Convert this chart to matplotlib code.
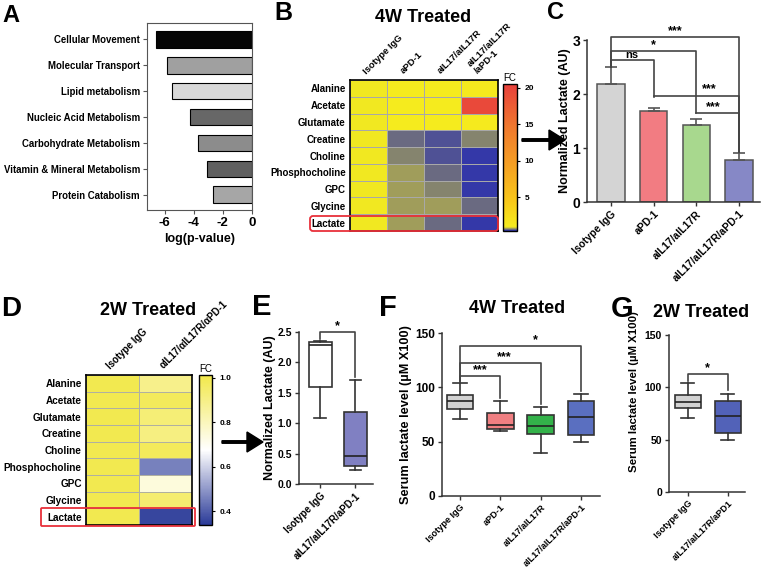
import numpy as np
import matplotlib
matplotlib.use("Agg")
import matplotlib.pyplot as plt
from matplotlib import font_manager
from matplotlib.colors import LinearSegmentedColormap
from matplotlib.patches import FancyBboxPatch

names = {f.name for f in font_manager.fontManager.ttflist}
narrow = 'Liberation Sans Narrow' if 'Liberation Sans Narrow' in names else 'Liberation Sans'
plt.rcParams['font.family'] = [narrow, 'DejaVu Sans']
plt.rcParams['font.weight'] = 'bold'
plt.rcParams['axes.labelweight'] = 'bold'

# ---- data ----
a_terms = ['Cellular Movement', 'Molecular Transport', 'Lipid metabolism',
           'Nucleic Acid Metabolism', 'Carbohydrate Metabolism',
           'Vitamin & Mineral Metabolism', 'Protein Catabolism']
a_logp = [-6.6, -5.8, -5.5, -4.25, -3.7, -3.1, -2.7]
a_colors = ['#050505', '#a0a0a0', '#d8d8d8', '#676767', '#8c8c8c', '#606060', '#a6a6a6']

metabolites = ['Alanine', 'Acetate', 'Glutamate', 'Creatine', 'Choline',
               'Phosphocholine', 'GPC', 'Glycine', 'Lactate']
b_groups = ['Isotype IgG', 'aPD-1', 'aIL17/aIL17R', 'aIL17/aIL17R\n/aPD-1']
b_fc = [[1.0, 1.05, 1.05, 1.3],
        [1.0, 1.1, 1.1, 19.5],
        [1.0, 1.05, 1.05, 1.15],
        [1.0, 0.58, 0.49, 0.67],
        [1.0, 0.67, 0.50, 0.45],
        [1.0, 0.75, 0.61, 0.45],
        [1.0, 0.78, 0.66, 0.45],
        [1.0, 0.75, 0.74, 0.56],
        [1.0, 0.75, 0.61, 0.42]]

c_groups = ['Isotype IgG', 'aPD-1', 'aIL17/aIL17R', 'aIL17/aIL17R/aPD-1']
c_mean = [2.18, 1.68, 1.43, 0.78]
c_err = [0.32, 0.07, 0.10, 0.13]
c_colors = ['#d4d4d4', '#f27c82', '#a8d88e', '#8688c6']

d_groups = ['Isotype IgG', 'αIL17/αIL17R/αPD-1']
d_fc = [[1.0, 0.89],
        [1.0, 0.98],
        [1.0, 0.93],
        [1.0, 0.91],
        [1.0, 0.98],
        [1.0, 0.46],
        [1.0, 0.74],
        [1.0, 0.94],
        [1.0, 0.36]]

e_groups = ['Isotype IgG', 'aIL17/aIL17R/aPD-1']
e_stats = [(1.09, 1.60, 2.29, 2.33, 2.36), (0.23, 0.30, 0.46, 1.18, 1.71)]  # lo, q1, med, q3, hi
e_colors = ['#ffffff', '#8080c2']

f_groups = ['Isotype IgG', 'aPD-1', 'aIL17/aIL17R', 'aIL17/aIL17R/aPD-1']
f_stats = [(71, 80, 87, 93, 104), (60, 61.5, 65, 76, 87), (40, 57, 64, 75, 82), (50, 56, 73, 87, 94)]
f_colors = ['#d2d2d2', '#f07f82', '#33b24a', '#5a6fc0']

g_groups = ['Isotype IgG', 'aIL17/aIL17R/aPD1']
g_stats = [(71, 80, 86, 93, 104), (50, 56, 73, 87, 94)]
g_colors = ['#d2d2d2', '#5262b8']

W, H = 763, 569
fig = plt.figure(figsize=(W / 100, H / 100), dpi=100)


def rect(l, t, r, b):
    return [l / W, 1 - b / H, (r - l) / W, (b - t) / H]


def style_axes(ax):
    for s in ['top', 'right']:
        ax.spines[s].set_visible(False)
    for s in ['left', 'bottom']:
        ax.spines[s].set_color('#333333')
        ax.spines[s].set_linewidth(1.1)
    ax.tick_params(colors='#333333', width=1, length=3, labelcolor='black', pad=2)


def bracket(ax, x1, x2, y, y1, y2, text, tx=None, fs=9):
    ax.plot([x1, x1, x2, x2], [y1, y, y, y2], color='#444444', lw=1.2, clip_on=False)
    if tx is None:
        tx = (x1 + x2) / 2
    ax.text(tx, y, text, ha='center', va='bottom', fontsize=fs, clip_on=False)


def boxes(ax, stats, labels, colors, fs):
    st = [dict(whislo=s[0], q1=s[1], med=s[2], q3=s[3], whishi=s[4], label=l)
          for s, l in zip(stats, labels)]
    bp = ax.bxp(st, positions=np.arange(len(st)), widths=0.66, showfliers=False,
                patch_artist=True,
                boxprops=dict(edgecolor='#333333', linewidth=1.2),
                medianprops=dict(color='#222222', linewidth=1.2),
                whiskerprops=dict(color='#333333', linewidth=1.2),
                capprops=dict(color='#333333', linewidth=1.2))
    for p, c in zip(bp['boxes'], colors):
        p.set_facecolor(c)
    plt.setp(ax.get_xticklabels(), rotation=45, ha='right', rotation_mode='anchor', fontsize=fs)


# ---- A ----
axA = fig.add_axes(rect(147, 23, 252, 210))
ya = np.arange(len(a_terms))
axA.barh(ya, a_logp, height=0.65, color=a_colors, edgecolor='black', linewidth=0.8)
axA.set_ylim(6.58, -0.62)
axA.set_xlim(-7.2, 0)
axA.set_yticks(ya)
axA.set_yticklabels(a_terms, fontsize=6.9)
axA.set_xticks([-6, -4, -2, 0])
axA.set_xticklabels(['-6', '-4', '-2', '0'], fontsize=9.5)
axA.set_xlabel('log(p-value)', fontsize=9, labelpad=3)
for s in axA.spines.values():
    s.set_color('#555555')
axA.tick_params(length=3, color='#555555', pad=2)

# ---- B ----
cmapB = LinearSegmentedColormap.from_list('fcB', [(0.0, '#3438a8'), (0.028, '#f5ec1e'), (0.2, '#f8c81a'),
                                                  (0.45, '#f5a023'), (0.7, '#f07a2e'), (1.0, '#e8403c')])
axB = fig.add_axes(rect(350, 80, 498, 231))
meshB = axB.pcolormesh(np.array(b_fc), cmap=cmapB, vmin=0.4, vmax=20.5,
                       edgecolors='#a8a8a8', linewidth=0.4)
axB.set_xlim(0, 4)
axB.set_ylim(9, 0)
axB.set_yticks(np.arange(9) + 0.5)
axB.set_yticklabels(metabolites, fontsize=7)
axB.xaxis.tick_top()
axB.set_xticks(np.arange(4) + 0.5)
axB.set_xticklabels(b_groups, fontsize=6.8, rotation=45, ha='left', rotation_mode='anchor')
axB.tick_params(length=0, pad=3)
for s in axB.spines.values():
    s.set_linewidth(1.2)
caxB = fig.add_axes(rect(503, 84, 517, 231))
cbB = fig.colorbar(meshB, cax=caxB, ticks=[5, 10, 15, 20])
cbB.ax.tick_params(labelsize=6, length=2)
cbB.outline.set_linewidth(1)
caxB.set_title('FC', fontsize=7, pad=2)

# ---- C ----
axC = fig.add_axes(rect(587, 40, 760, 202))
xc = np.arange(4)
axC.bar(xc, c_mean, width=0.64, color=c_colors, edgecolor='#555555', linewidth=1.1)
axC.errorbar(xc, c_mean, yerr=[np.zeros(4), c_err], fmt='none', ecolor='#555555',
             capsize=4, elinewidth=1.2, capthick=1.2)
axC.set_xlim(-0.56, 3.49)
axC.set_ylim(0, 3)
axC.set_yticks([0, 1, 2, 3])
axC.set_xticks(xc)
axC.set_xticklabels(c_groups, fontsize=7.5, rotation=45, ha='right', rotation_mode='anchor')
axC.set_ylabel('Normalized Lactate (AU)', fontsize=9, labelpad=1)
style_axes(axC)
bracket(axC, 0, 1, 2.63, 2.5, 1.95, 'ns', fs=8)
bracket(axC, 0, 2, 2.8, 2.5, 1.64, '*')
bracket(axC, 0, 3, 3.05, 2.5, 0.93, '***')
bracket(axC, 1, 3, 1.97, 1.97, 0.93, '***', tx=2.3)
bracket(axC, 2, 3, 1.64, 1.64, 0.93, '***', tx=2.4)

# ---- D ----
cmapD = LinearSegmentedColormap.from_list('fcD', [(0.0, '#2a3a98'), (0.5, '#ffffff'), (1.0, '#f2e84a')])
axD = fig.add_axes(rect(86, 375, 192, 525))
meshD = axD.pcolormesh(np.array(d_fc), cmap=cmapD, vmin=0.337, vmax=1.013,
                       edgecolors='#b0b0a0', linewidth=0.4)
axD.set_xlim(0, 2)
axD.set_ylim(9, 0)
axD.set_yticks(np.arange(9) + 0.5)
axD.set_yticklabels(metabolites, fontsize=7.2)
axD.xaxis.tick_top()
axD.set_xticks(np.arange(2) + 0.5)
axD.set_xticklabels(d_groups, fontsize=7, rotation=45, ha='left', rotation_mode='anchor')
axD.tick_params(length=0, pad=3)
for s in axD.spines.values():
    s.set_linewidth(1.2)
caxD = fig.add_axes(rect(199, 375, 212, 525))
cbD = fig.colorbar(meshD, cax=caxD, ticks=[0.4, 0.6, 0.8, 1.0], format='%.1f')
cbD.ax.tick_params(labelsize=6, length=2)
cbD.outline.set_linewidth(1)
caxD.set_title('FC', fontsize=7, pad=2)

# ---- E ----
axE = fig.add_axes(rect(299, 332, 373, 484))
boxes(axE, e_stats, e_groups, e_colors, 7)
axE.set_xlim(-0.6, 1.5)
axE.set_ylim(0, 2.5)
axE.set_yticks([0, 0.5, 1.0, 1.5, 2.0, 2.5])
axE.set_yticklabels(['0.0', '0.5', '1.0', '1.5', '2.0', '2.5'], fontsize=7.5)
axE.set_ylabel('Normalized Lactate (AU)', fontsize=9, labelpad=1)
style_axes(axE)
bracket(axE, 0, 1, 2.5, 2.38, 1.76, '*')

# ---- F ----
axF = fig.add_axes(rect(442, 333, 600, 496))
boxes(axF, f_stats, f_groups, f_colors, 6.6)
axF.set_xlim(-0.45, 3.47)
axF.set_ylim(0, 150)
axF.set_yticks([0, 50, 100, 150])
axF.tick_params(axis='y', labelsize=8.5)
axF.set_ylabel('Serum lactate level (µM X100)', fontsize=9.2, labelpad=2)
style_axes(axF)
bracket(axF, 0, 1, 110, 106, 90, '***')
bracket(axF, 0, 2, 122, 106, 85, '***', tx=1.1)
bracket(axF, 0, 3, 138, 106, 97, '*', tx=1.87)

# ---- G ----
axG = fig.add_axes(rect(669, 335, 745, 492))
boxes(axG, g_stats, g_groups, g_colors, 6.6)
axG.set_xlim(-0.47, 1.43)
axG.set_ylim(0, 150)
axG.set_yticks([0, 50, 100, 150])
axG.tick_params(axis='y', labelsize=7.5)
axG.set_ylabel('Serum lactate level (µM X100)', fontsize=8.2, labelpad=2)
axG.yaxis.set_label_coords(-0.4, 0.64)
style_axes(axG)
bracket(axG, 0, 1, 113, 106, 97, '*')

# ---- overlay: letters, titles, arrows, highlight boxes ----
ov = fig.add_axes([0, 0, 1, 1])
ov.set_xlim(0, W)
ov.set_ylim(H, 0)
ov.axis('off')
letters = ['A', 'B', 'C', 'D', 'E', 'F', 'G']
letter_xy = [(11, 15), (283, 13), (556, 12), (11, 309), (262, 307), (388, 308), (622, 309)]
letter_fs = [17, 18, 17, 20, 21, 21, 21]
for letter, (lx, ly), fs in zip(letters, letter_xy, letter_fs):
    ov.text(lx, ly, letter, fontsize=fs, ha='center', va='center',
            family=['Liberation Sans', 'DejaVu Sans'])
ov.text(423, 17, '4W Treated', fontsize=13, ha='center', va='center')
ov.text(148, 310, '2W Treated', fontsize=13, ha='center', va='center')
ov.text(517, 308, '4W Treated', fontsize=13, ha='center', va='center')
ov.text(701, 312, '2W Treated', fontsize=13, ha='center', va='center')
ov.arrow(522, 140, 43, 0, width=2.5, head_width=20, head_length=16,
         length_includes_head=True, fc='black', ec='black')
ov.arrow(222, 442, 41, 0, width=2.5, head_width=20, head_length=16,
         length_includes_head=True, fc='black', ec='black')
ov.add_patch(FancyBboxPatch((310, 216), 188, 15, boxstyle='round,pad=0,rounding_size=3',
                            ec='#e8303a', fc='none', lw=1.3))
ov.add_patch(FancyBboxPatch((41, 508), 154, 18, boxstyle='round,pad=0,rounding_size=1',
                            ec='#e8303a', fc='none', lw=1.3))

fig.savefig('out.png', dpi=100)
